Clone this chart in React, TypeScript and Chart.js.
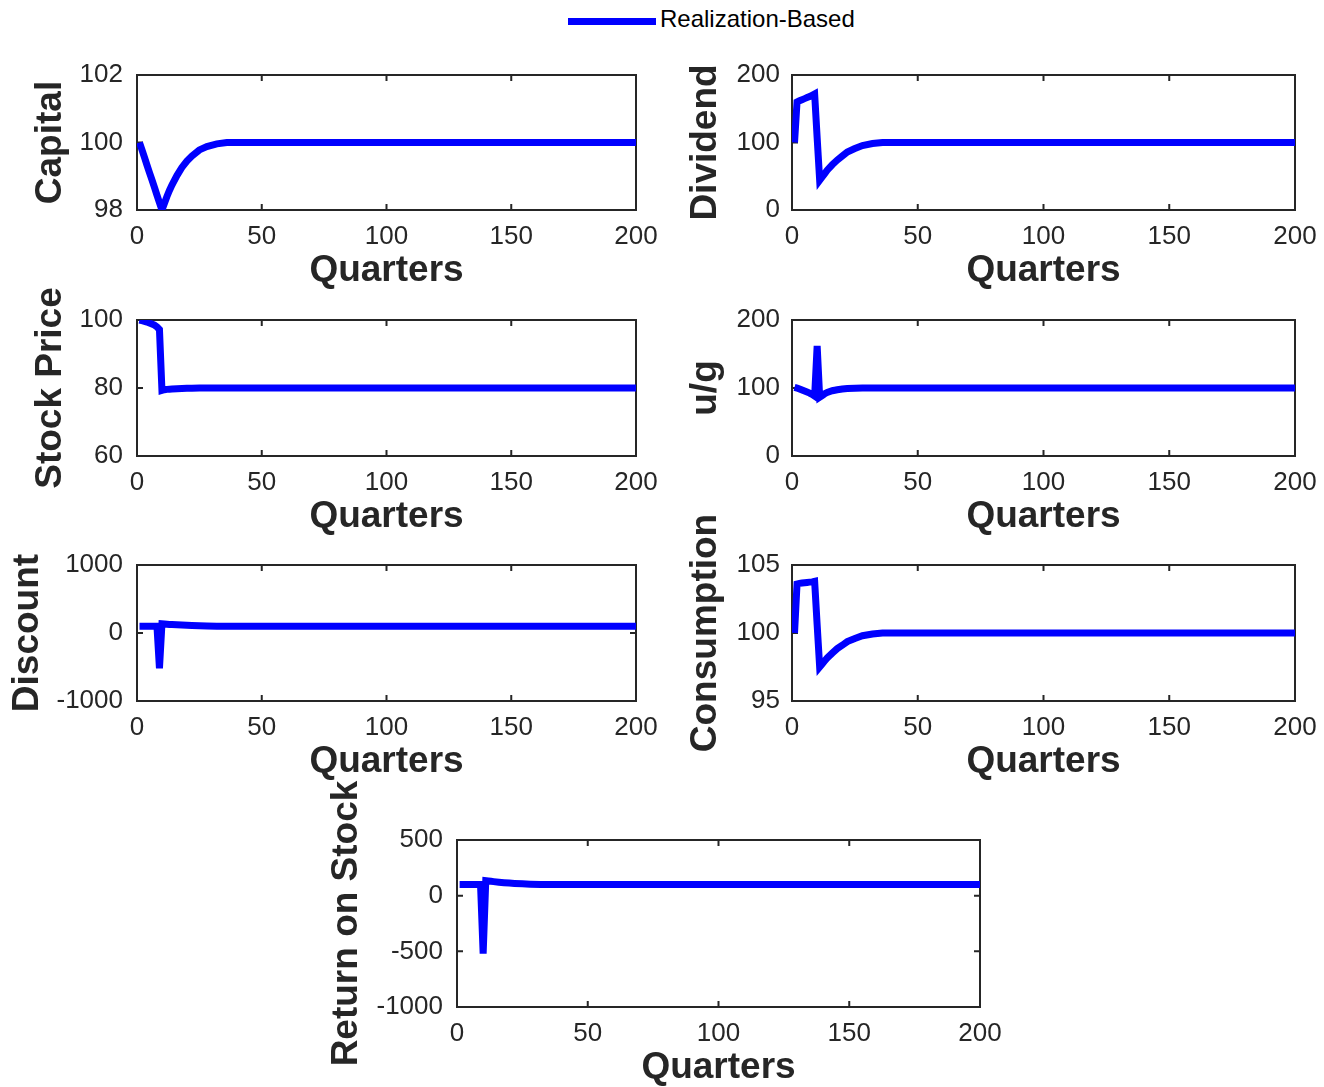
import { useEffect, useRef } from "react";
import { Chart, registerables } from "chart.js";

Chart.register(...registerables);

const FONT = '"Liberation Sans", Arial, Helvetica, sans-serif';
const AXIS_COLOR = "#262626";
const LINE_COLOR = "#0000ff";

// Quarters at which each series is sampled (dense around the shock, flat afterwards)
const quarters = [1, 2, 3, 4, 5, 6, 7, 8, 9, 10, 11, 12, 13, 14, 16, 18, 20, 22, 25, 28, 32, 36, 40, 200];

const capital = [100, 99.78, 99.56, 99.33, 99.11, 98.89, 98.67, 98.44, 98.22, 98.0, 98.2, 98.4, 98.58, 98.74, 99.02, 99.26, 99.45, 99.6, 99.78, 99.88, 99.96, 100, 100, 100];
const dividend = [100, 160, 162, 163.5, 165, 166.5, 168, 170, 172, 107, 44, 49, 54, 59, 67, 74, 80, 86, 91, 95.5, 98.5, 100, 100, 100];
const stockPrice = [100, 99.8, 99.6, 99.4, 99.1, 98.8, 98.5, 98.0, 97.2, 79.3, 79.5, 79.6, 79.65, 79.7, 79.8, 79.85, 79.9, 79.95, 80, 80, 80, 80, 80, 80];
const uOverG = [101, 100, 98.5, 97, 95.5, 94, 92.5, 90.5, 88, 162, 86.5, 89, 91.5, 93.5, 96, 97.5, 98.5, 99.2, 99.7, 100, 100, 100, 100, 100];
const discount = [100, 100, 100, 100, 100, 100, 100, 100, -520, 135, 132, 129, 126, 124, 120, 116, 113, 110, 106, 103, 101, 100, 100, 100];
const consumption = [100, 103.6, 103.65, 103.68, 103.7, 103.72, 103.74, 103.76, 103.8, 100.6, 97.5, 97.72, 97.95, 98.17, 98.52, 98.85, 99.1, 99.37, 99.6, 99.8, 99.93, 100, 100, 100];
const returnOnStock = [100, 100, 100, 100, 100, 100, 100, 100, 100, -520, 135, 132, 129, 126, 121, 117, 113, 110, 106, 103, 101, 100, 100, 100];

const xTickStep = 50;
const xRange = [0, 200];

// Reserved space around each plot box inside its canvas
const Y_AXIS_W = 130;
const X_AXIS_H = 80;
const TOP_PAD = 72;
const RIGHT_PAD = 40;
const TICK_LEN = 6;

const TITLE_SIZE = 37;
const TICK_SIZE = 26;

interface PanelSpec {
  title: string;
  values: number[];
  yMin: number;
  yMax: number;
  yStep: number;
  box: { left: number; top: number; right: number; bottom: number };
  titleOffset: number;
  labelGap: number;
}

const panels: PanelSpec[] = [
  { title: "Capital", values: capital, yMin: 98, yMax: 102, yStep: 2, box: { left: 137, top: 75, right: 636, bottom: 210 }, titleOffset: 25, labelGap: 14 },
  { title: "Dividend", values: dividend, yMin: 0, yMax: 200, yStep: 100, box: { left: 792, top: 75, right: 1295, bottom: 210 }, titleOffset: 25, labelGap: 12 },
  { title: "Stock Price", values: stockPrice, yMin: 60, yMax: 100, yStep: 20, box: { left: 137, top: 320, right: 636, bottom: 456 }, titleOffset: 25, labelGap: 14 },
  { title: "u/g", values: uOverG, yMin: 0, yMax: 200, yStep: 100, box: { left: 792, top: 320, right: 1295, bottom: 456 }, titleOffset: 25, labelGap: 12 },
  { title: "Discount", values: discount, yMin: -1000, yMax: 1000, yStep: 1000, box: { left: 137, top: 565, right: 636, bottom: 701 }, titleOffset: 2, labelGap: 14 },
  { title: "Consumption", values: consumption, yMin: 95, yMax: 105, yStep: 5, box: { left: 792, top: 565, right: 1295, bottom: 701 }, titleOffset: 25, labelGap: 12 },
  { title: "Return on Stock", values: returnOnStock, yMin: -1000, yMax: 500, yStep: 500, box: { left: 457, top: 840, right: 980, bottom: 1007 }, titleOffset: 1, labelGap: 14 },
];

// Box around the plot area with inward tick marks on all four sides
const framePlugin = {
  id: "matlabFrame",
  beforeDatasetsDraw(chart: any) {
    const { ctx, chartArea } = chart;
    const { left, top, right, bottom } = chartArea;
    const xs = chart.scales.x;
    const ys = chart.scales.y;
    ctx.save();
    ctx.strokeStyle = AXIS_COLOR;
    ctx.lineWidth = 2;
    ctx.strokeRect(left, top, right - left, bottom - top);
    ctx.beginPath();
    xs.ticks.forEach((t: any) => {
      const px = xs.getPixelForValue(t.value);
      ctx.moveTo(px, bottom);
      ctx.lineTo(px, bottom - TICK_LEN);
      ctx.moveTo(px, top);
      ctx.lineTo(px, top + TICK_LEN);
    });
    ys.ticks.forEach((t: any) => {
      const py = ys.getPixelForValue(t.value);
      ctx.moveTo(left, py);
      ctx.lineTo(left + TICK_LEN, py);
      ctx.moveTo(right, py);
      ctx.lineTo(right - TICK_LEN, py);
    });
    ctx.stroke();
    ctx.restore();
  },
};

function fixAxis(size: { width?: number; height?: number }) {
  return (scale: any) => {
    if (size.width !== undefined) scale.width = size.width;
    if (size.height !== undefined) scale.height = size.height;
    scale.paddingLeft = 0;
    scale.paddingRight = 0;
    scale.paddingTop = 0;
    scale.paddingBottom = 0;
  };
}

function Panel({ spec }: { spec: PanelSpec }) {
  const ref = useRef<HTMLCanvasElement | null>(null);
  const { box } = spec;
  const width = box.right - box.left + Y_AXIS_W + RIGHT_PAD;
  const height = box.bottom - box.top + TOP_PAD + X_AXIS_H;

  useEffect(() => {
    if (!ref.current) return;
    const chart = new Chart(ref.current, {
      type: "line",
      data: {
        datasets: [
          {
            label: "Realization-Based",
            data: quarters.map((q, i) => ({ x: q, y: spec.values[i] })),
            borderColor: LINE_COLOR,
            backgroundColor: LINE_COLOR,
            borderWidth: 7,
            pointRadius: 0,
            tension: 0,
            fill: false,
          },
        ],
      },
      options: {
        animation: false,
        responsive: false,
        maintainAspectRatio: false,
        devicePixelRatio: 1,
        events: [],
        layout: { padding: { left: 0, top: TOP_PAD, right: RIGHT_PAD, bottom: 0 } },
        plugins: { legend: { display: false }, tooltip: { enabled: false } },
        scales: {
          x: {
            type: "linear",
            position: "bottom",
            min: xRange[0],
            max: xRange[1],
            grid: { display: false, drawTicks: false },
            border: { display: false },
            ticks: {
              stepSize: xTickStep,
              autoSkip: false,
              maxRotation: 0,
              padding: 11,
              color: AXIS_COLOR,
              font: { family: FONT, size: TICK_SIZE, lineHeight: 1.2 },
              callback: (v: any) => String(v),
            },
            title: {
              display: true,
              text: "Quarters",
              color: AXIS_COLOR,
              font: { family: FONT, size: TITLE_SIZE, weight: "bold", lineHeight: 1 },
              padding: { top: 0, bottom: 1 },
            },
            afterFit: fixAxis({ height: X_AXIS_H }),
          },
          y: {
            type: "linear",
            position: "left",
            min: spec.yMin,
            max: spec.yMax,
            grid: { display: false, drawTicks: false },
            border: { display: false },
            ticks: {
              stepSize: spec.yStep,
              autoSkip: false,
              padding: spec.labelGap,
              color: AXIS_COLOR,
              font: { family: FONT, size: TICK_SIZE, lineHeight: 1.2 },
              callback: (v: any) => String(v),
            },
            title: {
              display: true,
              text: spec.title,
              color: AXIS_COLOR,
              font: { family: FONT, size: TITLE_SIZE, weight: "bold", lineHeight: 1 },
              padding: { top: spec.titleOffset, bottom: 0 },
            },
            afterFit: fixAxis({ width: Y_AXIS_W }),
          },
        },
      } as any,
      plugins: [framePlugin],
    });
    return () => chart.destroy();
  }, [spec]);

  return (
    <canvas
      ref={ref}
      width={width}
      height={height}
      style={{
        position: "absolute",
        left: box.left - Y_AXIS_W,
        top: box.top - TOP_PAD,
        width,
        height,
      }}
    />
  );
}

export default function App() {
  return (
    <div
      style={{
        position: "absolute",
        left: 0,
        top: 0,
        width: 1324,
        height: 1087,
        background: "#ffffff",
        overflow: "hidden",
      }}
    >
      <div
        style={{
          position: "absolute",
          left: 568,
          top: 18,
          width: 88,
          height: 7,
          background: LINE_COLOR,
        }}
      />
      <div
        style={{
          position: "absolute",
          left: 660,
          top: 7,
          fontFamily: FONT,
          fontSize: 24,
          lineHeight: "24px",
          color: "#000000",
          whiteSpace: "nowrap",
        }}
      >
        Realization-Based
      </div>
      {panels.map((p) => (
        <Panel key={p.title} spec={p} />
      ))}
    </div>
  );
}
